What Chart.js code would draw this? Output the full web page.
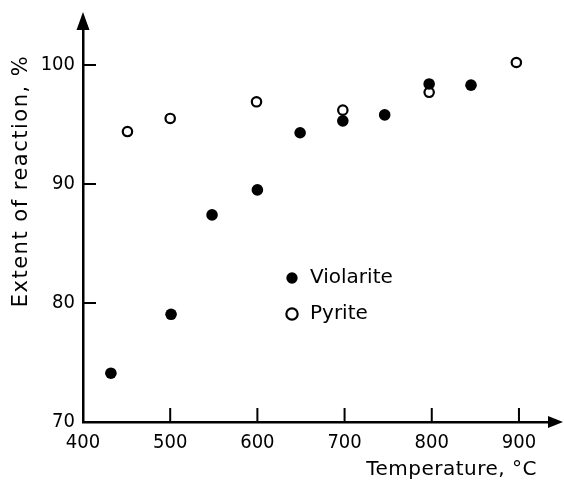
<!DOCTYPE html>
<html>
<head>
<meta charset="utf-8">
<script src="https://cdn.jsdelivr.net/npm/chart.js@4.4.1/dist/chart.umd.min.js"></script>
<style>
  html, body { margin: 0; padding: 0; background: #fff; }
  #wrap { width: 564px; height: 482px; }
</style>
</head>
<body>
<div id="wrap"><canvas id="myChart"></canvas></div>
<script>
const violariteTemp = [432, 501, 548, 600, 649, 698, 746, 797, 845];
const violariteExtent = [74.1, 79.05, 87.4, 89.5, 94.3, 95.3, 95.8, 98.4, 98.3];
const pyriteTemp = [451, 500, 599, 698, 797, 897];
const pyriteExtent = [94.4, 95.5, 96.9, 96.2, 97.7, 100.2];
const xTicks = [400, 500, 600, 700, 800, 900];
const yTicks = [70, 80, 90, 100];

const toPoints = (xs, ys) => xs.map((t, i) => ({ x: t, y: ys[i] }));

const tickFont = { family: 'DejaVu Sans Condensed', size: 20 };

// inward ticks, arrow heads and the axis titles
const axesDeco = {
  id: 'axesDeco',
  afterLayout(chart) {
    const lg = chart.legend;
    const pad = lg.options.labels.padding;
    lg.left = 292 - 8 - pad;
    lg.top = 278 - 10 - pad;
    lg.right = lg.left + lg.width;
    lg.bottom = lg.top + lg.height;
  },
  afterDraw(chart) {
    const { ctx, chartArea: a, scales: { x, y } } = chart;
    ctx.save();
    ctx.strokeStyle = '#000';
    ctx.fillStyle = '#000';
    ctx.lineWidth = 2;
    ctx.beginPath();
    y.ticks.forEach(t => {
      if (t.value === y.min) return;
      const py = y.getPixelForValue(t.value);
      ctx.moveTo(a.left, py);
      ctx.lineTo(a.left + 13, py);
    });
    x.ticks.forEach(t => {
      if (t.value === x.min) return;
      const px = x.getPixelForValue(t.value);
      ctx.moveTo(px, a.bottom);
      ctx.lineTo(px, a.bottom - 14);
    });
    ctx.stroke();

    ctx.beginPath();
    ctx.moveTo(a.left, a.top - 16);
    ctx.lineTo(a.left - 6.5, a.top + 2);
    ctx.lineTo(a.left + 6.5, a.top + 2);
    ctx.closePath();
    ctx.moveTo(a.right + 13, a.bottom);
    ctx.lineTo(a.right - 2, a.bottom - 6);
    ctx.lineTo(a.right - 2, a.bottom + 6);
    ctx.closePath();
    ctx.fill();

    ctx.font = '20px "DejaVu Sans"';
    ctx.letterSpacing = '0.5px';
    ctx.textAlign = 'right';
    ctx.textBaseline = 'middle';
    ctx.fillText('Temperature, °C', a.right - 13, a.bottom + 48);

    ctx.translate(22, 181);
    ctx.rotate(-Math.PI / 2);
    ctx.textAlign = 'center';
    ctx.font = '21px "DejaVu Sans"';
    ctx.letterSpacing = '1.5px';
    ctx.fillText('Extent of reaction, %', 0, 0);
    ctx.restore();
  }
};

Chart.defaults.color = '#000';

new Chart(document.getElementById('myChart'), {
  type: 'scatter',
  data: {
    datasets: [{
      label: 'Violarite',
      data: toPoints(violariteTemp, violariteExtent),
      pointStyle: 'circle',
      pointRadius: 5.8,
      pointBorderWidth: 0,
      borderWidth: 0,
      backgroundColor: '#000',
      borderColor: '#000'
    }, {
      label: 'Pyrite',
      data: toPoints(pyriteTemp, pyriteExtent),
      pointStyle: 'circle',
      pointRadius: 4.7,
      pointBorderWidth: 2.2,
      borderWidth: 2.2,
      backgroundColor: '#fff',
      borderColor: '#000'
    }]
  },
  options: {
    responsive: true,
    maintainAspectRatio: false,
    animation: false,
    layout: { padding: { top: 28, right: 14, left: 0, bottom: 0 } },
    plugins: {
      tooltip: { enabled: false },
      legend: {
        position: 'chartArea',
        align: 'start',
        labels: {
          usePointStyle: true,
          boxWidth: 16,
          boxHeight: 8,
          padding: 16,
          color: '#000',
          font: { family: 'DejaVu Sans', size: 20 }
        }
      }
    },
    scales: {
      x: {
        type: 'linear',
        min: 400,
        max: 935.6,
        afterBuildTicks: s => { s.ticks = xTicks.map(v => ({ value: v })); },
        afterFit: s => { s.height = 60; s.paddingLeft = 0; s.paddingRight = 0; },
        grid: { display: false },
        border: { display: true, width: 2.5, color: '#000' },
        ticks: { padding: 1, font: tickFont, color: '#000', maxRotation: 0 }
      },
      y: {
        type: 'linear',
        min: 70,
        max: 103.1,
        afterBuildTicks: s => { s.ticks = yTicks.map(v => ({ value: v })); },
        afterFit: s => { s.width = 83; s.paddingTop = 0; s.paddingBottom = 0; },
        grid: { display: false },
        border: { display: true, width: 2.5, color: '#000' },
        ticks: { padding: 0, font: tickFont, color: '#000' }
      }
    }
  },
  plugins: [axesDeco]
});
</script>
</body>
</html>
